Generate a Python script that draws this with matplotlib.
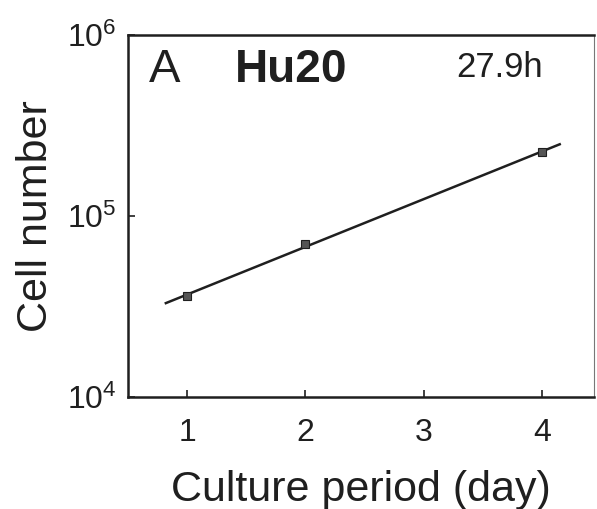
import numpy as np
import matplotlib
matplotlib.use("Agg")
import matplotlib.pyplot as plt
from matplotlib.ticker import FixedLocator, FixedFormatter, NullLocator

plt.rcParams['font.family'] = ['Liberation Sans', 'DejaVu Sans']
plt.rcParams['mathtext.fontset'] = 'custom'
plt.rcParams['mathtext.rm'] = 'Liberation Sans'
plt.rcParams['mathtext.it'] = 'Liberation Sans'

days = [1, 2, 4]
cells = [3.6e4, 7.0e4, 2.25e5]
fit_range = [0.82, 4.15]
xticks = [1, 2, 3, 4]
yticks = [1e4, 1e5, 1e6]
ytick_labels = [r'$10^{4}$', r'$10^{5}$', r'$10^{6}$']
panel = 'A'
cell_line = 'Hu20'
doubling = '27.9h'

ink = '#1f1f1f'
fig = plt.figure(figsize=(5.97, 5.09), dpi=100)
ax = fig.add_axes([0.2144, 0.22, 0.7806, 0.711])
ax.set_yscale('log')
ax.set_xlim(0.5, 4.44)
ax.set_ylim(1e4, 1e6)

coef = np.polyfit(days, np.log10(cells), 1)
xf = np.array(fit_range)
ax.plot(xf, 10 ** np.polyval(coef, xf), color=ink, lw=1.8)
ax.plot(days, cells, 's', color='#555555', ms=6, mec=ink, mew=0.8)

ax.xaxis.set_major_locator(FixedLocator(xticks))
ax.yaxis.set_major_locator(FixedLocator(yticks))
ax.yaxis.set_major_formatter(FixedFormatter(ytick_labels))
ax.yaxis.set_minor_locator(NullLocator())
ax.tick_params(direction='in', length=5, width=1.2, colors=ink, labelcolor=ink)
ax.tick_params(axis='x', labelsize=23, pad=15)
ax.tick_params(axis='y', labelsize=23, pad=8)

for s in ax.spines.values():
    s.set_color(ink)
    s.set_linewidth(1.8)
ax.spines['right'].set_linewidth(0.8)
ax.spines['right'].set_color('#777777')

ax.set_xlabel('Culture period (day)', fontsize=31, color=ink, labelpad=16)
ax.set_ylabel('Cell number', fontsize=31, color=ink, labelpad=8)

ax.text(0.045, 0.905, panel, transform=ax.transAxes, fontsize=34, color=ink, va='center', ha='left')
ax.text(0.23, 0.905, cell_line, transform=ax.transAxes, fontsize=33, fontweight='bold', color=ink, va='center', ha='left')
ax.text(0.705, 0.91, doubling, transform=ax.transAxes, fontsize=25, color=ink, va='center', ha='left')

fig.savefig('out.png', dpi=100)
